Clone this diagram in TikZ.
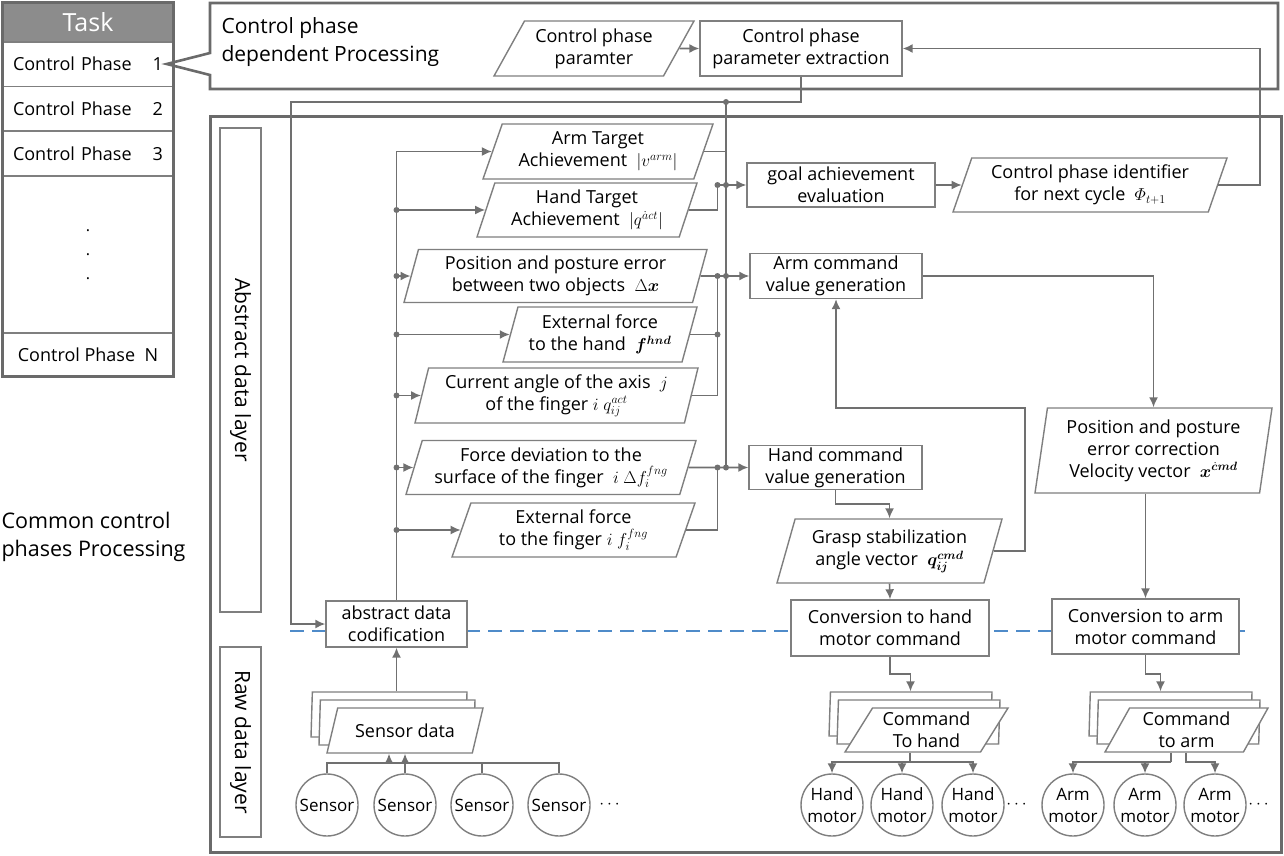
\documentclass[tikz,border=0pt]{standalone}
\usepackage{amsmath,bm}
\usepackage{fontspec}
\setmainfont{Open Sans}
\usetikzlibrary{shapes.geometric,arrows.meta,positioning}

\definecolor{linegray}{HTML}{707070}
\definecolor{boxgray}{HTML}{7F7F7F}
\definecolor{framegray}{HTML}{6A6A6A}
\definecolor{headgray}{HTML}{8C8C8C}
\definecolor{dashblue}{HTML}{4F8BC9}

\begin{document}
\begin{tikzpicture}[x=1pt,y=-1pt,
    font=\fontsize{18}{22}\selectfont,
    frame/.style={draw=framegray,line width=2.6pt},
    box/.style={draw=boxgray,line width=1.4pt,fill=white,align=center,inner sep=1pt},
    datum/.style={box,trapezium,trapezium stretches body=true},
    lean/.code={\pgfmathsetmacro\leanright{180-#1}\edef\leanset{\noexpand\pgfkeysalso{/pgf/trapezium left angle=#1,/pgf/trapezium right angle=\leanright}}\leanset},
    phase/.style={draw=boxgray,line width=1.4pt,minimum width=170pt,minimum height=44.5pt,text width=150pt,inner sep=0pt,align=left,font=\fontsize{18}{22}\selectfont},
    layer/.style={draw=boxgray,line width=1.2pt,rotate=-90,minimum height=41pt,font=\fontsize{21}{24}\selectfont},
    motor/.style={draw=boxgray,line width=1.4pt,circle,minimum size=62pt,inner sep=0pt,align=center,font=\fontsize{17}{22}\selectfont},
    wire/.style={draw=linegray,line width=1.6pt},
    arr/.style={wire,-{Latex[length=10pt,width=9pt]}},
  ]
\useasboundingbox (0,0) rectangle (1284,856);

% task list
\node[fill=headgray,draw=boxgray,line width=1.4pt,minimum width=170pt,minimum height=39pt,text=white,font=\fontsize{25}{28}\selectfont] (task) at (88,22.5) {Task};
\foreach \i/\y in {1/64,2/108.5,3/153.5}
  \node[phase] (cp\i) at (88,\y) {Control Phase\hfill\i};
\node[draw=boxgray,line width=1.4pt,minimum width=170pt,minimum height=157pt,align=center,font=\fontsize{16}{24}\selectfont] (cpdots) at (88,254.5) {.\\.\\.};
\node[draw=boxgray,line width=1.4pt,minimum width=170pt,minimum height=43pt] (cpN) at (88,354.5) {Control Phase~~N};
\draw[frame,line width=3pt] (task.north west) rectangle (cpN.south east);

% frames
\draw[frame] (210,3) -- (1278,3) -- (1278,89) -- (210,89) -- (210,75) -- ([xshift=-7pt]cp1.east) -- (210,53) -- cycle;
\node[anchor=west,align=left,font=\fontsize{21}{28}\selectfont] (dep) at (218,42) {Control phase\\dependent Processing};
\draw[frame,line width=3pt] (210,117) rectangle (1281,852);
\node[anchor=west,align=left,font=\fontsize{21.5}{28}\selectfont] (common) at (-2,537) {Common control\\phases Processing};
\node[layer,minimum width=484pt] (abs) at (240.5,370) {Abstract data layer};
\node[layer,minimum width=190pt] (raw) at (240.5,742) {Raw data layer};
\draw[dashblue,line width=1.4pt,dash pattern=on 14pt off 8pt] (290,631) -- (1245,631);

% control phase dependent part
\node[datum,lean=54,minimum width=200pt,minimum height=55pt] (cpp) at (594,48.5) {Control phase\\paramter};
\node[box,minimum width=202pt,minimum height=55pt] (cpe) at (801,48.5) {Control phase\\parameter extraction};
\draw[arr] (cpp.east) -- (cpe.west);
\node[box,minimum width=188pt,minimum height=44pt] (goal) at (841,185) {goal achievement\\evaluation};
\node[datum,lean=66,minimum width=274pt,minimum height=54pt] (cpid) at (1090,185) {Control phase identifier\\for next cycle\ \ $\varPhi_{t+1}$};
\draw[arr] (goal.east) -- (cpid.west);
\coordinate (fb) at (1260,48.5);
\draw[arr] (cpid.east) -| (fb) -- (cpe.east);

% abstract data layer
\node[box,minimum width=141pt,minimum height=46pt] (adc) at (396.5,624) {abstract data\\codification};
\node[datum,lean=65,minimum width=230pt,minimum height=55pt] (armt) at (598,151.5) {Arm Target\\Achievement\ \ $|v^{arm}|$};
\node[datum,lean=67,minimum width=220pt,minimum height=54pt] (hndt) at (587,210) {Hand Target\\Achievement\ \ $|q^{\dot{a}ct}|$};
\node[datum,lean=71,minimum width=303pt,minimum height=53pt] (pose) at (555.5,276) {Position and posture error\\between two objects\ \ $\Delta\bm{x}$};
\node[datum,lean=70,minimum width=194pt,minimum height=55pt] (exth) at (600,334.5) {External force\\to the hand\ \ $\bm{f}^{\bm{hnd}}$};
\node[datum,lean=73,minimum width=283pt,minimum height=55pt] (cang) at (556.5,395.5) {Current angle of the axis\ \ $j$\\of the finger\ $i\ q_{ij}^{act}$};
\node[datum,lean=69,minimum width=290pt,minimum height=54pt] (fdev) at (551,467.5) {Force deviation to the\\surface of the finger\ \ $i\ \Delta f_i^{fng}$};
\node[datum,lean=66,minimum width=243pt,minimum height=54pt] (extf) at (573.5,530) {External force\\to the finger $i\ f_i^{fng}$};

\coordinate (fork) at (726,102);
\coordinate (lft) at (291,102);
\draw[arr] (cpe.south) |- (fork) -- (lft) |- (adc.west);
\draw[arr] (adc.north) |- (armt.west);
\foreach \n in {hndt,pose,exth,cang,fdev,extf}{
  \fill[linegray] (adc.north |- \n.west) circle (3pt);
  \draw[arr] (adc.north |- \n.west) -- (\n.west);
}

% command value generation
\node[box,minimum width=172pt,minimum height=45pt] (acv) at (836,276) {Arm command\\value generation};
\node[box,minimum width=173pt,minimum height=44pt] (hcv) at (835.5,467.5) {Hand command\\value generation};
\coordinate (f1) at (726,185);
\coordinate (f2) at (726,276);
\coordinate (f3) at (726,467.5);
\coordinate (j1) at (717.5,185);
\coordinate (j2) at (717.5,276);
\coordinate (j3) at (717.5,467.5);
\coordinate (jh) at (exth.east -| j2);
\draw[wire] (fork) -- (f3);
\draw[wire] (armt.east) -- (armt.east -| fork);
\draw[wire] (hndt.east) -| (j1);
\draw[arr] (j1) -- (goal.west);
\draw[arr] (pose.east) -- (acv.west);
\draw[wire] (exth.east) -- (jh);
\draw[wire] (cang.east) -| (j2);
\draw[arr] (fdev.east) -- (hcv.west);
\draw[wire] (extf.east) -| (j3);
\foreach \p in {fork,f1,f2,f3,j1,j2,j3,jh}
  \fill[linegray] (\p) circle (3pt);

\node[datum,lean=68,minimum width=225pt,minimum height=64pt] (grasp) at (889.5,551) {Grasp stabilization\\angle vector\ \ $\bm{q}_{\bm{ij}}^{\bm{cmd}}$};
\node[box,minimum width=198pt,minimum height=56pt] (chnd) at (890,628) {Conversion to hand\\motor command};
\node[datum,lean=79,minimum width=237pt,minimum height=85pt] (pcor) at (1153.5,450.5) {Position and posture\\error correction\\Velocity vector\ \ $\bm{x}^{\bm{\dot{c}md}}$};
\node[box,minimum width=187pt,minimum height=55pt] (carm) at (1145.5,626.5) {Conversion to arm\\motor command};
\coordinate (gr) at (1025,408);
\draw[arr] (hcv.south) -- ++(0,14) -| (grasp.north);
\draw[arr] (grasp.south) -- (chnd.north);
\draw[arr] (grasp.east) -| (gr) -| (acv.south);
\draw[arr] (acv.east) -| (pcor.north);
\draw[arr] (pcor.south -| carm.north) -- (carm.north);

% raw data layer
\foreach \o/\n in {16/3,8/2}{
  \node[datum,lean=56,minimum width=156pt,minimum height=45pt] (sdat\n) at (405-\o,730.5-\o) {};
  \node[datum,lean=54,minimum width=163pt,minimum height=44pt] (cmdh\n) at (926.5-\o,730-\o) {};
  \node[datum,lean=57,minimum width=163pt,minimum height=44pt] (cmda\n) at (1186.5-\o,730-\o) {};
}
\node[datum,lean=56,minimum width=156pt,minimum height=45pt] (sdat) at (405,730.5) {Sensor data};
\node[datum,lean=54,minimum width=163pt,minimum height=44pt] (cmdh) at (926.5,730) {Command\\To hand};
\node[datum,lean=57,minimum width=163pt,minimum height=44pt] (cmda) at (1186.5,730) {Command\\to arm};
\draw[arr] (sdat3.north -| adc.south) -- (adc.south);
\draw[arr] (chnd.south) -- ++(0,17) -| (cmdh3.north);
\draw[arr] (carm.south) -- ++(0,19) -| ([xshift=-10pt]cmda3.north);

\foreach \i/\x in {1/327,2/405,3/482,4/559}
  \node[motor] (s\i) at (\x,805) {Sensor};
\foreach \i/\x in {1/832,2/902,3/973}
  \node[motor] (h\i) at (\x,805) {Hand\\motor};
\foreach \i/\x in {1/1073,2/1145,3/1215}
  \node[motor] (a\i) at (\x,805) {Arm\\motor};
\node (sdots) at (611,805) {$\cdots$};
\node (hdots) at (1018,805) {$\cdots$};
\node (adots) at (1260,805) {$\cdots$};

\coordinate (sbus) at (0,763);
\coordinate (sarr) at ([xshift=-16pt]s2.north);
\draw[wire] (s1.north) -- (s1.north |- sbus) -- (s4.north |- sbus) -- (s4.north);
\draw[wire] (s3.north) -- (s3.north |- sbus);
\draw[arr] (s2.north) -- (s2.north |- sdat.south);
\draw[arr] (sarr |- sbus) -- (sarr |- sdat.south);

\coordinate (hb) at (910,762);
\draw[wire] (cmdh.south -| hb) -- (hb);
\draw[arr] (hb) -| (h1.north);
\draw[arr] (hb) -| (h3.north);
\draw[arr] (h2.north |- hb) -- (h2.north);

\coordinate (ab) at (1171,762);
\coordinate (ac) at (1186,762);
\draw[wire] (cmda.south -| ab) -- (ab);
\draw[arr] (ab) -| (a1.north);
\draw[arr] (a2.north |- ab) -- (a2.north);
\draw[arr] (cmda.south -| ac) -- (ac) -| (a3.north);
\end{tikzpicture}
\end{document}
